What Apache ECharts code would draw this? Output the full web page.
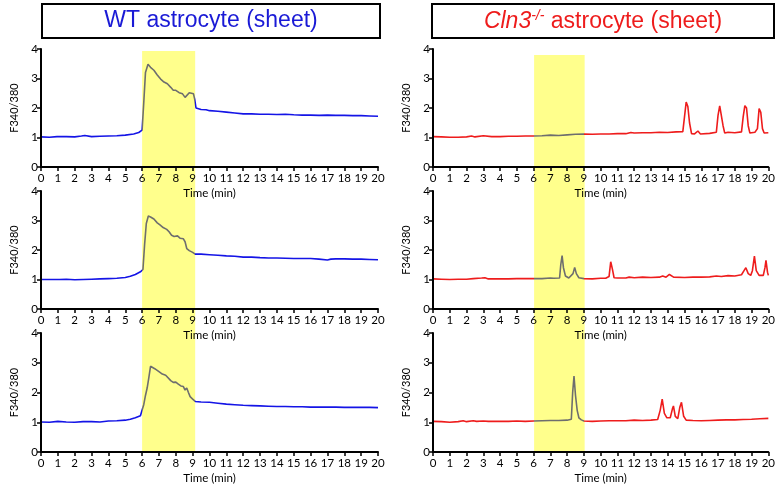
<!DOCTYPE html>
<html><head><meta charset="utf-8">
<script src="https://cdn.jsdelivr.net/npm/echarts@6/dist/echarts.min.js"></script>
<style>html,body{margin:0;padding:0;background:#fff}#c{width:778px;height:487px}</style>
</head><body><div id="c"></div>
<script>
// ---- data: [time (min), F340/380] ----
const xTicks = [0,1,2,3,4,5,6,7,8,9,10,11,12,13,14,15,16,17,18,19,20];
const yTicks = [0,1,2,3,4];
const stimWT = [6, 9.15];
const stimKO = [6, 9];
const titleWT = 'WT astrocyte (sheet)';
const titleKOgene = 'Cln3';
const titleKOsup = '-/-';
const titleKOrest = ' astrocyte (sheet)';
const xName = 'Time (min)';
const yName = 'F340/380';

const wt1 = [[0,1.02],[0.5,1.01],[0.95,1.03],[1.0,1.06],[1.05,1.02],[1.5,1.03],[2.0,1.02],[2.4,1.05],[2.5,1.11],[2.6,1.07],[3.0,1.03],[3.5,1.04],[4.0,1.05],[4.5,1.06],[5.0,1.08],[5.5,1.12],[5.8,1.17],[6.0,1.25],[6.1,2.2],[6.2,3.2],[6.35,3.48],[6.5,3.38],[6.7,3.28],[6.9,3.12],[7.1,2.98],[7.3,2.88],[7.5,2.82],[7.7,2.70],[7.85,2.60],[8.0,2.60],[8.2,2.52],[8.4,2.48],[8.55,2.36],[8.65,2.42],[8.8,2.52],[8.9,2.48],[9.05,2.48],[9.12,2.30],[9.2,2.0],[9.5,1.95],[9.8,1.94],[10,1.91],[10.5,1.89],[11,1.86],[11.5,1.83],[12,1.80],[12.5,1.80],[13,1.79],[13.5,1.79],[14,1.78],[14.5,1.79],[15,1.77],[15.5,1.76],[16,1.76],[16.5,1.75],[17,1.76],[17.5,1.75],[18,1.75],[18.5,1.74],[19,1.74],[19.5,1.73],[20,1.72]];
const wt2 = [[0,1.0],[0.5,1.0],[0.95,1.0],[1.0,1.05],[1.1,1.0],[1.5,1.01],[2,0.99],[2.5,1.0],[3,1.01],[3.5,1.02],[4,1.03],[4.5,1.04],[5,1.07],[5.3,1.11],[5.6,1.17],[5.9,1.26],[6.05,1.34],[6.15,2.2],[6.25,2.9],[6.37,3.15],[6.5,3.12],[6.7,3.05],[6.9,2.92],[7.06,2.85],[7.25,2.76],[7.46,2.70],[7.6,2.62],[7.75,2.50],[7.9,2.46],[8.1,2.48],[8.25,2.40],[8.35,2.36],[8.45,2.38],[8.55,2.28],[8.65,2.05],[8.8,1.98],[9.0,1.92],[9.15,1.86],[9.5,1.86],[10,1.84],[10.5,1.82],[11,1.80],[11.5,1.79],[12,1.76],[12.5,1.76],[13,1.74],[13.5,1.73],[14,1.73],[14.5,1.72],[15,1.71],[15.5,1.71],[16,1.71],[16.5,1.69],[17,1.66],[17.2,1.69],[17.5,1.70],[18,1.70],[18.5,1.69],[19,1.69],[19.5,1.68],[20,1.67]];
const wt3 = [[0,1.01],[0.5,1.0],[1.0,1.03],[1.1,1.0],[1.5,1.01],[2,1.0],[2.5,1.02],[3,1.02],[3.5,1.01],[4,1.04],[4.5,1.05],[5,1.07],[5.3,1.10],[5.6,1.15],[5.9,1.22],[6.0,1.28],[6.1,1.6],[6.2,1.9],[6.3,2.15],[6.4,2.5],[6.5,2.88],[6.6,2.86],[6.75,2.80],[7.0,2.70],[7.2,2.62],[7.4,2.58],[7.5,2.52],[7.7,2.40],[7.85,2.34],[8.0,2.35],[8.15,2.28],[8.3,2.22],[8.45,2.20],[8.55,2.08],[8.65,2.15],[8.75,2.0],[8.85,1.86],[9.0,1.78],[9.15,1.70],[9.5,1.68],[10,1.67],[10.5,1.64],[11,1.61],[11.5,1.59],[12,1.57],[12.5,1.56],[13,1.55],[13.5,1.54],[14,1.53],[14.5,1.53],[15,1.52],[15.5,1.52],[16,1.51],[16.5,1.51],[17,1.51],[17.5,1.51],[18,1.50],[18.5,1.50],[19,1.50],[19.5,1.50],[20,1.49]];
const ko1 = [[0,1.03],[0.5,1.02],[1,1.01],[1.5,1.01],[2,1.02],[2.3,1.05],[2.5,1.02],[3,1.06],[3.1,1.03],[3.5,1.03],[4,1.03],[4.5,1.04],[5,1.04],[5.5,1.05],[6,1.05],[6.5,1.06],[7,1.08],[7.5,1.07],[8,1.09],[8.5,1.11],[9,1.12],[9.5,1.11],[10,1.12],[10.5,1.12],[11,1.13],[11.5,1.13],[11.8,1.17],[12,1.15],[12.5,1.16],[13,1.16],[13.5,1.18],[14,1.17],[14.5,1.19],[14.9,1.20],[15.0,1.7],[15.1,2.2],[15.2,2.05],[15.3,1.5],[15.42,1.13],[15.6,1.12],[15.8,1.22],[15.95,1.12],[16.5,1.14],[16.9,1.18],[17.0,1.75],[17.1,2.07],[17.2,2.02],[17.3,1.4],[17.4,1.15],[17.6,1.18],[18.0,1.16],[18.4,1.19],[18.5,1.7],[18.6,2.08],[18.7,2.0],[18.8,1.4],[18.9,1.15],[19.2,1.18],[19.35,1.3],[19.45,1.98],[19.55,1.85],[19.65,1.3],[19.75,1.15],[20,1.16]];
const ko2 = [[0,1.02],[0.5,1.01],[1,1.0],[1.5,1.01],[2,1.01],[2.4,1.03],[2.9,1.05],[3.1,1.06],[3.3,1.02],[4,1.02],[4.5,1.02],[5,1.03],[5.5,1.03],[6,1.03],[6.5,1.03],[7,1.05],[7.2,1.04],[7.55,1.05],[7.62,1.5],[7.7,1.81],[7.78,1.4],[7.9,1.12],[8.1,1.05],[8.35,1.2],[8.45,1.41],[8.55,1.2],[8.7,1.06],[9,1.03],[9.5,1.02],[10,1.04],[10.1,1.07],[10.3,1.04],[10.5,1.10],[10.6,1.6],[10.7,1.35],[10.8,1.06],[11,1.05],[11.5,1.05],[11.7,1.08],[12,1.06],[12.5,1.08],[13,1.07],[13.5,1.08],[13.7,1.12],[13.9,1.08],[14.1,1.17],[14.2,1.19],[14.35,1.08],[15,1.07],[15.5,1.08],[16,1.08],[16.5,1.09],[16.9,1.12],[17.2,1.10],[17.6,1.13],[18,1.12],[18.4,1.16],[18.55,1.30],[18.66,1.40],[18.8,1.2],[18.95,1.14],[19.05,1.3],[19.17,1.79],[19.28,1.3],[19.45,1.14],[19.7,1.14],[19.8,1.4],[19.86,1.65],[19.95,1.25],[20,1.14]];
const ko3 = [[0,1.03],[0.5,1.02],[1,1.0],[1.5,1.02],[1.8,1.05],[2,1.02],[2.4,1.05],[2.6,1.03],[3,1.04],[3.1,1.07],[3.3,1.03],[4,1.03],[4.5,1.03],[5,1.04],[5.5,1.03],[6,1.04],[6.5,1.05],[7,1.06],[7.5,1.06],[8,1.07],[8.25,1.1],[8.33,2.0],[8.41,2.55],[8.5,1.9],[8.6,1.4],[8.7,1.15],[8.85,1.08],[9,1.04],[9.5,1.03],[10,1.04],[10.5,1.05],[11,1.05],[11.5,1.05],[12,1.07],[12.5,1.06],[13,1.07],[13.4,1.09],[13.55,1.4],[13.67,1.78],[13.8,1.3],[13.95,1.15],[14.15,1.15],[14.28,1.45],[14.34,1.55],[14.45,1.2],[14.6,1.12],[14.72,1.5],[14.82,1.67],[14.95,1.2],[15.1,1.07],[15.5,1.06],[16,1.05],[16.5,1.06],[17,1.07],[17.5,1.08],[18,1.08],[18.5,1.09],[19,1.10],[19.5,1.12],[20,1.13]];

// ---- layout / style ----
const FONT = 'Lato';
const BLUE = '#1414e6', RED = '#ee1c1c', GRAY = '#6e6e6e', YELLOW = '#ffff8c';
const panels = [
  {data: wt1, left: 41, top: 49, height: 118, color: BLUE, stim: stimWT},
  {data: wt2, left: 41, top: 191, height: 118, color: BLUE, stim: stimWT},
  {data: wt3, left: 41, top: 333, height: 119, color: BLUE, stim: stimWT},
  {data: ko1, left: 433, top: 49, height: 118, color: RED, stim: stimKO},
  {data: ko2, left: 433, top: 191, height: 118, color: RED, stim: stimKO},
  {data: ko3, left: 433, top: 333, height: 119, color: RED, stim: stimKO}
];
const W = 337;
const grid = [], xAxis = [], yAxis = [], series = [], visualMap = [];
const axisLine = {show: true, onZero: false, lineStyle: {color: '#000', width: 2}};
const axisTick = {show: true, length: 4, lineStyle: {color: '#000', width: 1.5}};
panels.forEach((p, i) => {
  grid.push({left: p.left, top: p.top, width: W, height: p.height});
  xAxis.push({
    gridIndex: i, type: 'value', min: xTicks[0], max: xTicks[xTicks.length - 1], interval: 1, z: 10,
    axisLine, axisTick, splitLine: {show: false},
    axisLabel: {color: '#000', fontSize: 11.5, fontFamily: FONT, margin: 5, showMinLabel: true, showMaxLabel: true},
    name: xName, nameLocation: 'middle', nameGap: 20,
    nameTextStyle: {color: '#000', fontSize: 11.5, fontFamily: FONT}
  });
  yAxis.push({
    gridIndex: i, type: 'value', min: yTicks[0], max: yTicks[yTicks.length - 1], interval: 1, z: 10,
    axisLine, axisTick, splitLine: {show: false},
    axisLabel: {color: '#000', fontSize: 11.5, fontFamily: FONT, margin: 3},
    name: yName, nameLocation: 'middle', nameGap: 21, nameRotate: 90,
    nameTextStyle: {color: '#000', fontSize: 11, fontFamily: FONT}
  });
  series.push({
    type: 'line', xAxisIndex: i, yAxisIndex: i, data: p.data, showSymbol: false, symbol: 'none',
    lineStyle: {width: 1.6}, z: 3, silent: true, animation: false
  });
  visualMap.push({
    type: 'piecewise', show: false, dimension: 0, seriesIndex: i,
    pieces: [{lt: p.stim[0], color: p.color}, {gte: p.stim[0], lte: p.stim[1], color: GRAY}, {gt: p.stim[1], color: p.color}]
  });
});
// stimulation bands spanning each column of panels
[{left: 41, top: 51, stim: stimWT}, {left: 433, top: 55, stim: stimKO}].forEach((b, k) => {
  const gi = grid.length;
  grid.push({left: b.left, top: b.top, width: W, bottom: 35});
  xAxis.push({gridIndex: gi, type: 'value', min: 0, max: 20, show: false});
  yAxis.push({gridIndex: gi, type: 'value', min: 0, max: 1, show: false});
  series.push({
    type: 'line', xAxisIndex: gi, yAxisIndex: gi, data: [[0, 0], [20, 0]], symbol: 'none',
    lineStyle: {opacity: 0}, z: -1, silent: true, animation: false,
    markArea: {silent: true, itemStyle: {color: YELLOW, opacity: 1}, data: [[{xAxis: b.stim[0]}, {xAxis: b.stim[1]}]]}
  });
});

const chart = echarts.init(document.getElementById('c'), null, {renderer: 'canvas'});
chart.setOption({
  animation: false,
  backgroundColor: '#fff',
  grid, xAxis, yAxis, series, visualMap,
  graphic: [
    {type: 'rect', shape: {x: 42, y: 4, width: 338, height: 34}, style: {fill: '#fff', stroke: '#000', lineWidth: 2}},
    {type: 'text', x: 211, y: 21, style: {text: titleWT, fill: '#1a1ad6', font: '23px "Liberation Sans"', align: 'center', verticalAlign: 'middle'}},
    {type: 'rect', shape: {x: 432, y: 4, width: 342, height: 34}, style: {fill: '#fff', stroke: '#000', lineWidth: 2}},
    {type: 'text', x: 603, y: 22, style: {
      text: '{i|' + titleKOgene + '}{s|' + titleKOsup + '}{n|' + titleKOrest + '}',
      align: 'center', verticalAlign: 'middle',
      rich: {
        i: {fill: '#ee1c1c', fontSize: 23, fontStyle: 'italic', fontFamily: 'Liberation Sans', lineHeight: 26},
        s: {fill: '#ee1c1c', fontSize: 14, fontStyle: 'italic', fontFamily: 'Liberation Sans', verticalAlign: 'top', lineHeight: 26, padding: [0, 0, 10, 0]},
        n: {fill: '#ee1c1c', fontSize: 23, fontFamily: 'Liberation Sans', lineHeight: 26}
      }
    }}
  ]
});
</script></body></html>
